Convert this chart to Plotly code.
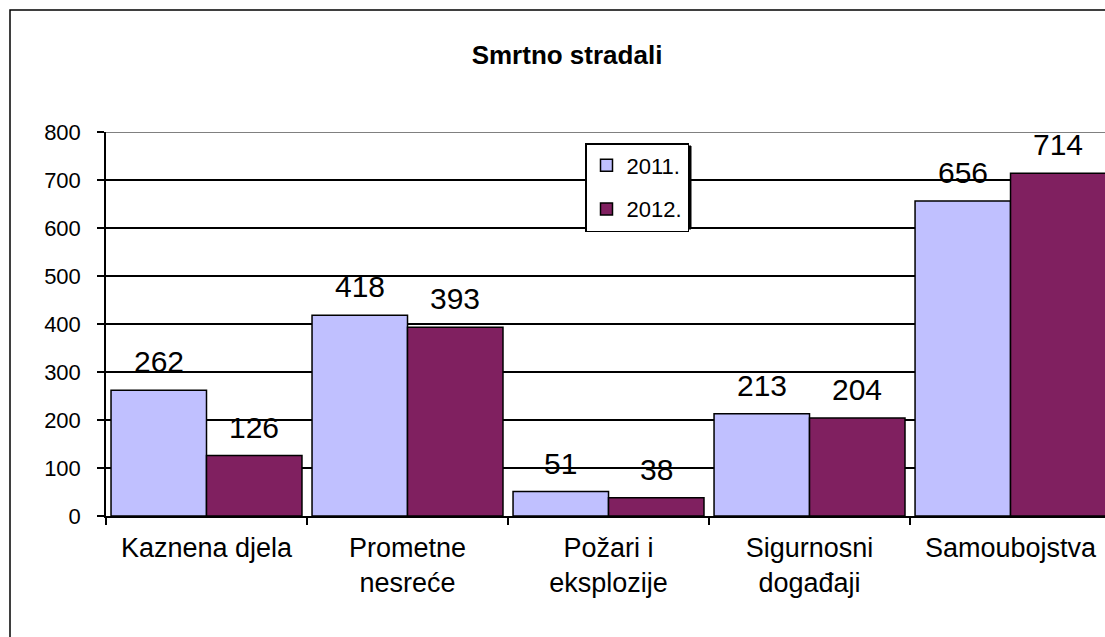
import plotly.graph_objects as go

categories = ["Kaznena djela", "Prometne<br>nesreće", "Požari i<br>eksplozije",
              "Sigurnosni<br>događaji", "Samoubojstva"]
series_names = ["2011.", "2012."]
values_2011 = [262, 418, 51, 213, 656]
values_2012 = [126, 393, 38, 204, 714]
y_ticks = [0, 100, 200, 300, 400, 500, 600, 700, 800]
title_text = "Smrtno stradali"

colors = ["#C0C0FF", "#802060"]
FONT = "Arial, Liberation Sans, sans-serif"

fig = go.Figure()
for i, (name, vals) in enumerate(zip(series_names, [values_2011, values_2012])):
    fig.add_trace(go.Bar(
        x=categories, y=vals, name=name, legendgroup=name,
        marker=dict(color=colors[i], line=dict(color="black", width=1.5)),
    ))

W, H = 1105, 637
ml, mr, mt, mb = 106, 0, 132, 121
plot_w = W - ml - mr
plot_h = H - mt - mb
x_range = [-0.5, 4.47]  # last category is cut by the chart edge
cat_w = plot_w / (x_range[1] - x_range[0])
bargap = 0.05
bar_w = cat_w * (1 - bargap) / 2

def px_x(px):
    return (px - ml) / plot_w

def px_y(py):
    return 1 - (py - mt) / plot_h

annotations = []
for i, vals in enumerate([values_2011, values_2012]):
    shift = (-1 if i == 0 else 1) * bar_w / 2
    for c, v in zip(categories, vals):
        annotations.append(dict(
            x=c, y=v, xref="x", yref="y", text=str(v), showarrow=False,
            xanchor="center", yanchor="bottom", xshift=shift, yshift=10,
            font=dict(family=FONT, size=30, color="black"),
        ))

leg_x0, leg_y0, leg_x1, leg_y1 = 585, 143, 689, 227

shapes = [
    # outer chart border
    dict(type="rect", xref="paper", yref="paper",
         x0=px_x(10), x1=px_x(1120), y0=px_y(660), y1=px_y(10),
         line=dict(color="black", width=1.5), fillcolor="rgba(0,0,0,0)", layer="below"),
    # plot-area top border (grey)
    dict(type="line", xref="paper", yref="y", x0=0, x1=1, y0=800, y1=800,
         line=dict(color="#808080", width=2), layer="above"),
    # legend shadow
    dict(type="rect", xref="paper", yref="paper",
         x0=px_x(leg_x0 + 3), x1=px_x(leg_x1 + 2), y0=px_y(leg_y1 + 2), y1=px_y(leg_y0 + 3),
         line=dict(color="black", width=1), fillcolor="black", layer="above"),
]

fig.update_layout(
    width=W, height=H,
    margin=dict(l=ml, r=mr, t=mt, b=mb, autoexpand=False),
    paper_bgcolor="white", plot_bgcolor="white",
    barmode="group", bargap=bargap, bargroupgap=0,
    title=dict(text="<b>" + title_text + "</b>", x=567 / W, xanchor="center",
               y=1 - 55 / H, yanchor="middle",
               font=dict(family=FONT, size=26, color="black")),
    font=dict(family=FONT, color="black"),
    xaxis=dict(
        range=x_range,
        showline=True, linecolor="black", linewidth=1.5,
        ticks="outside", tickson="boundaries", ticklen=7, tickwidth=1.5, tickcolor="black",
        tickfont=dict(family=FONT, size=27, color="black"),
        showgrid=False, ticklabelstandoff=7,
    ),
    yaxis=dict(
        range=[0, 800], tickvals=y_ticks,
        showline=True, linecolor="black", linewidth=1.5,
        ticks="outside", ticklen=7, tickwidth=1.5, tickcolor="black",
        tickfont=dict(family=FONT, size=22, color="black"),
        showgrid=True, gridcolor="black", gridwidth=1.5,
        zeroline=False, ticklabelstandoff=12,
    ),
    legend=dict(
        x=px_x(leg_x0), y=px_y(leg_y0),
        xanchor="left", yanchor="top",
        bgcolor="white", bordercolor="black", borderwidth=1.5,
        font=dict(family=FONT, size=22, color="black"),
        tracegroupgap=12, itemwidth=30,
    ),
    annotations=annotations,
    shapes=shapes,
)

fig.write_html("out.html", config={"displayModeBar": False},
               post_script="document.body.style.margin='0px';document.body.style.padding='0px';")
